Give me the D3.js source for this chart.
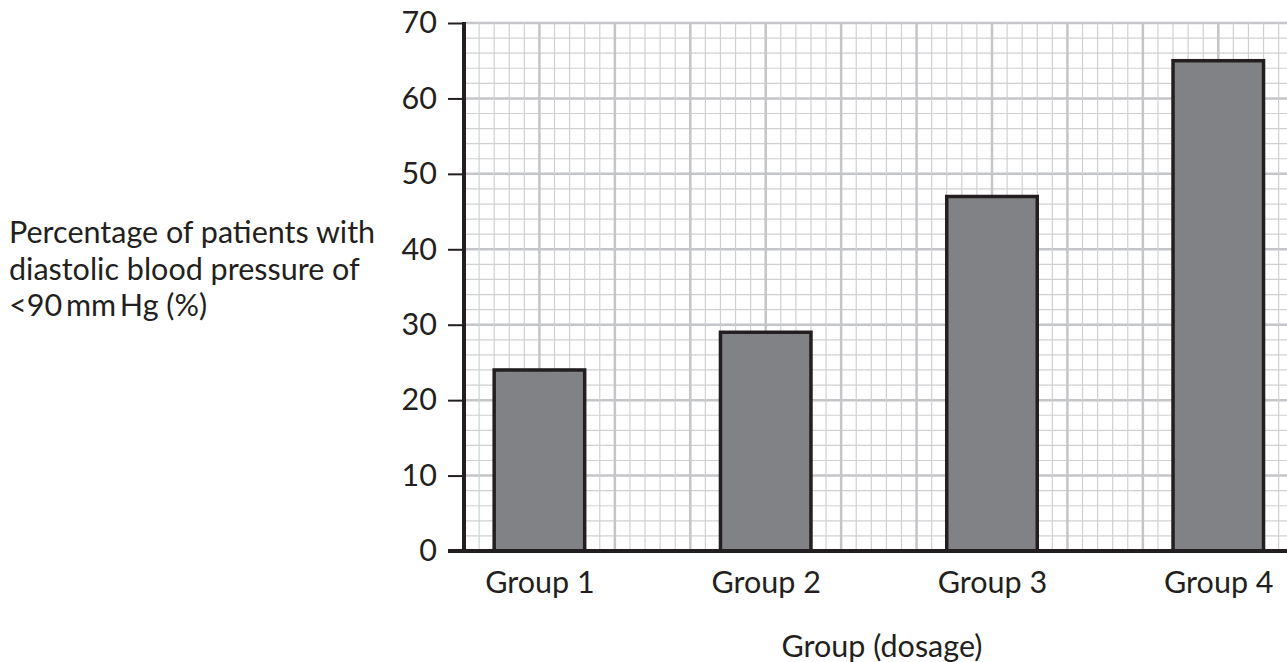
<!DOCTYPE html>
<html>
<head>
<meta charset="utf-8">
<script src="https://cdn.jsdelivr.net/npm/d3@7"></script>
<style>
  html, body { margin: 0; padding: 0; background: #fff; }
  svg { display: block; }
  text { font-family: Lato, "Open Sans", sans-serif; fill: #231f20; }
</style>
</head>
<body>
<svg id="chart" width="1287" height="662"></svg>
<script>
// ---- data ----
const categories = ["Group 1", "Group 2", "Group 3", "Group 4"];
const values = [24, 29, 47, 65];
const yTicks = [0, 10, 20, 30, 40, 50, 60, 70];
const yLabelLines = ["Percentage of patients with", "diastolic blood pressure of", "<90\u2009mm\u2009Hg (%)"];
const xTitle = "Group (dosage)";

// ---- layout ----
const W = 1287, H = 662;
const x0 = 464, yBottom = 551, yTop = 23;
const FS = 30.5;
const svg = d3.select("#chart");

const y = d3.scaleLinear().domain([0, 70]).range([yBottom, yTop]);
const unitPx = (yBottom - yTop) / 70;
const gx = d3.scaleLinear().domain([0, 1]).range([x0, x0 + unitPx]);
const gMax = (W - x0) / unitPx;

const xp = d3.scalePoint().domain(categories).range([gx(10), gx(100)]);
const barW = gx(12) - gx(0);

// ---- grid ----
const grid = svg.append("g");
const minorColor = "#cfd0d2", majorColor = "#c4c5c8";
for (let u = 0; u <= 70; u += 2) {
  const major = u % 10 === 0;
  grid.append("line")
    .attr("x1", x0).attr("x2", W)
    .attr("y1", y(u)).attr("y2", y(u))
    .attr("stroke", major ? majorColor : minorColor)
    .attr("stroke-width", major ? 2.5 : 1.2);
}
for (let u = 0; u <= gMax; u += 2) {
  const major = u % 10 === 0;
  grid.append("line")
    .attr("x1", gx(u)).attr("x2", gx(u))
    .attr("y1", yTop).attr("y2", yBottom)
    .attr("stroke", major ? majorColor : minorColor)
    .attr("stroke-width", major ? 2.5 : 1.2);
}

// ---- bars ----
svg.append("g").selectAll("rect")
  .data(values)
  .join("rect")
  .attr("x", (d, i) => xp(categories[i]) - barW / 2)
  .attr("width", barW)
  .attr("y", d => y(d))
  .attr("height", d => y(0) - y(d))
  .attr("fill", "#808285")
  .attr("stroke", "#231f20")
  .attr("stroke-width", 3.5);

// ---- axes ----
const yAxis = d3.axisLeft(y).tickValues(yTicks).tickSize(16).tickPadding(11);
const yg = svg.append("g").attr("transform", `translate(${x0},0)`).call(yAxis);
yg.select(".domain").remove();
yg.selectAll(".tick line").attr("stroke", "#231f20").attr("stroke-width", 2);
yg.selectAll(".tick text")
  .style("font-family", "Lato, sans-serif")
  .attr("font-size", FS).attr("fill", "#231f20");

svg.append("line")
  .attr("x1", x0).attr("x2", x0).attr("y1", yTop - 1).attr("y2", yBottom + 2)
  .attr("stroke", "#231f20").attr("stroke-width", 4);
svg.append("line")
  .attr("x1", x0 - 16).attr("x2", W).attr("y1", yBottom).attr("y2", yBottom)
  .attr("stroke", "#231f20").attr("stroke-width", 4);

const xAxis = d3.axisBottom(xp).tickSize(0).tickPadding(20);
const xg = svg.append("g").attr("transform", `translate(0,${yBottom})`).call(xAxis);
xg.select(".domain").remove();
xg.selectAll(".tick text")
  .style("font-family", "Lato, sans-serif")
  .attr("font-size", FS).attr("fill", "#231f20");

svg.append("text")
  .attr("x", 882).attr("y", 657)
  .attr("text-anchor", "middle")
  .attr("font-size", FS)
  .text(xTitle);

const yl = svg.append("text").attr("font-size", FS);
yLabelLines.forEach((t, i) => {
  yl.append("tspan").attr("x", 9).attr("y", 243 + i * 36.5).text(t);
});
</script>
</body>
</html>
